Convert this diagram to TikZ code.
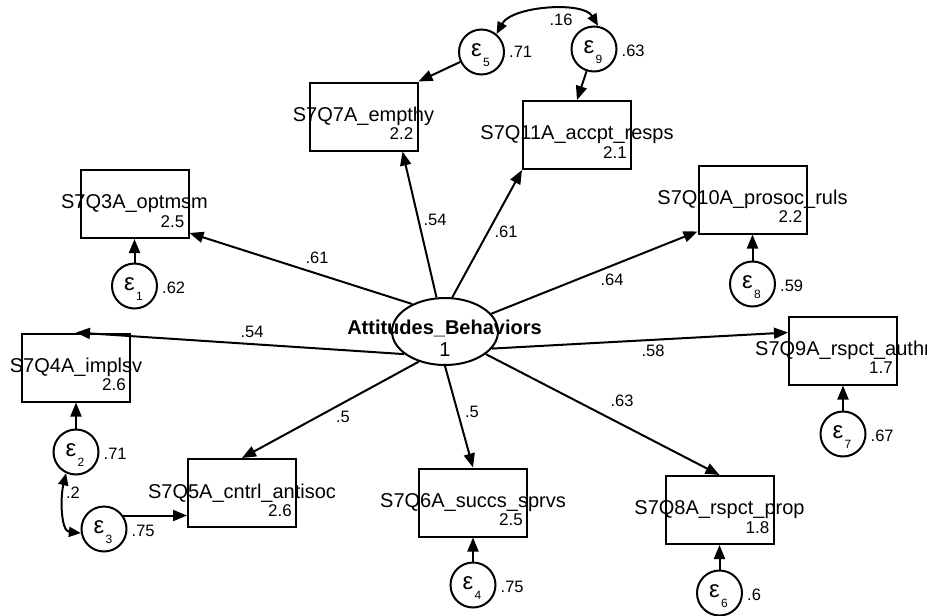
\documentclass[tikz,border=0pt]{standalone}
\usepackage{fontspec}
\setmainfont{Liberation Sans}
\usetikzlibrary{arrows.meta,shapes.geometric,calc}
\tikzset{
  obs/.style={draw, line width=2pt, rectangle, minimum width=108pt, minimum height=68pt, inner sep=0pt, font=\fontsize{20}{24}\selectfont},
  lat/.style={draw, line width=2pt, ellipse, minimum width=106pt, minimum height=67pt, inner sep=0pt},
  err/.style={draw, line width=2pt, circle, minimum size=45pt, inner sep=0pt,
    label={[epsglyph]center:ε}, label={[epssub]center:#1}},
  epsglyph/.style={inner sep=0pt, xshift=-5pt, yshift=2pt, font=\fontsize{24}{24}\selectfont},
  epssub/.style={inner sep=0pt, xshift=5pt, yshift=-10pt, font=\fontsize{12}{12}\selectfont},
  vnum/.style={inner sep=0pt, anchor=base east, font=\fontsize{17}{20}\selectfont},
  coef/.style={inner sep=0pt, font=\fontsize{16.5}{20}\selectfont},
  resv/.style={inner sep=0pt, anchor=base west, font=\fontsize{16.5}{20}\selectfont},
  conn/.style={line width=2pt, -{Triangle[length=14pt,width=11pt]}},
  cov/.style={line width=2pt, {Triangle[length=12pt,width=10pt]}-{Triangle[length=12pt,width=10pt]}}
}
\begin{document}
\begin{tikzpicture}[x=1pt,y=-1pt]
\useasboundingbox (0,0) rectangle (927,616);
\clip (0,0) rectangle (927,616);
\fill[white] (0,0) rectangle (927,616);

% latent variable
\node[lat] (E) at (445,331.5) {};
\node[inner sep=0pt, font=\bfseries\fontsize{20}{24}\selectfont] (Et) at (444.5,328) {Attitudes\_Behaviors};
\node[inner sep=0pt, font=\fontsize{20}{24}\selectfont] (Ev) at (445,350) {1};

% observed variables
\node[obs] (S3)  at (134.5,204)   {\makebox[0pt]{S7Q3A\_optmsm}};
\node[obs] (S4)  at (76,367.5)    {\makebox[0pt]{S7Q4A\_implsv}};
\node[obs] (S5)  at (242,493)     {\makebox[0pt]{S7Q5A\_cntrl\_antisoc}};
\node[obs] (S6)  at (473,502.5)   {\makebox[0pt]{S7Q6A\_succs\_sprvs}};
\node[obs] (S7)  at (363.5,116.5) {\makebox[0pt]{S7Q7A\_empthy}};
\node[obs] (S11) at (577,135)     {\makebox[0pt]{S7Q11A\_accpt\_resps}};
\node[obs] (S10) at (752.5,199.5) {\makebox[0pt]{S7Q10A\_prosoc\_ruls}};
\node[obs] (S9)  at (843,350.5)   {\makebox[0pt]{S7Q9A\_rspct\_authr}};
\node[obs] (S8)  at (719.5,510)   {\makebox[0pt]{S7Q8A\_rspct\_prop}};

\node[vnum] (n3)  at ($(S3.east)+(-5,23)$)  {2.5};
\node[vnum] (n4)  at ($(S4.east)+(-5,23)$)  {2.6};
\node[vnum] (n5)  at ($(S5.east)+(-5,23)$)  {2.6};
\node[vnum] (n6)  at ($(S6.east)+(-5,23)$)  {2.5};
\node[vnum] (n7)  at ($(S7.east)+(-5,23)$)  {2.2};
\node[vnum] (n11) at ($(S11.east)+(-5,23)$) {2.1};
\node[vnum] (n10) at ($(S10.east)+(-5,23)$) {2.2};
\node[vnum] (n9)  at ($(S9.east)+(-5,23)$)  {1.7};
\node[vnum] (n8)  at ($(S8.east)+(-5,23)$)  {1.8};

% error terms
\node[err=1] (e1) at (134.5,286) {};
\node[err=2] (e2) at (76,452) {};
\node[err=3] (e3) at (104,529) {};
\node[err=4] (e4) at (473,585) {};
\node[err=5] (e5) at (481.5,52) {};
\node[err=9] (e9) at (594,49) {};
\node[err=6] (e6) at (719.5,593) {};
\node[err=7] (e7) at (843,434) {};
\node[err=8] (e8) at (752.5,284) {};

\node[resv] (r1) at ($(e1.east)+(4,7)$) {.62};
\node[resv] (r2) at ($(e2.east)+(4,7)$) {.71};
\node[resv] (r3) at ($(e3.east)+(4,7)$) {.75};
\node[resv] (r4) at ($(e4.east)+(4,7)$) {.75};
\node[resv] (r5) at ($(e5.east)+(4,5)$) {.71};
\node[resv] (r9) at ($(e9.east)+(4,7)$) {.63};
\node[resv] (r6) at ($(e6.east)+(4,7)$) {.6};
\node[resv] (r7) at ($(e7.east)+(4,7)$) {.67};
\node[resv] (r8) at ($(e8.east)+(4,7)$) {.59};

% loadings
\draw[conn] (E.140) -- ($(S3.south east)+(0,-6)$);
\draw[conn] (E.104) -- ($(S7.south east)+(-16,0)$);
\draw[conn] (E.78)  -- (S11.south west);
\draw[conn] (E.21)  -- ($(S10.south west)+(0,-3)$);
\draw[conn] (E.-20) -- ($(S9.north west)+(0,17)$);
\draw[conn] (E.-29) -- (S8.north);
\draw[conn] (E.-90) -- (S6.north);
\draw[conn] (E.-131) -- (S5.north);
\draw[conn] (E.-151) -- (S4.north);

\node[coef] (c3)  at (317,258) {.61};
\node[coef] (c7)  at (435,220) {.54};
\node[coef] (c11) at (506,232) {.61};
\node[coef] (c10) at (612,280) {.64};
\node[coef] (c4)  at (252,332) {.54};
\node[coef] (c9)  at (653,351) {.58};
\node[coef] (c8)  at (622,401) {.63};
\node[coef] (c5)  at (343,417) {.5};
\node[coef] (c6)  at (472,412) {.5};

% error paths
\draw[conn] (e1.north) -- (e1.north |- S3.south);
\draw[conn] (e2.north) -- (e2.north |- S4.south);
\draw[conn] (e3.35) -- (e3.35 -| S5.west);
\draw[conn] (e4.north) -- (e4.north |- S6.south);
\draw[conn] (e5) -- (S7.north east);
\draw[conn] (e9) -- ($(S11.north west)+(55,0)$);
\draw[conn] (e6.north) -- (e6.north |- S8.south);
\draw[conn] (e7.north) -- (e7.north |- S9.south);
\draw[conn] (e8.north) -- (e8.north |- S10.south);

% covariances
\draw[cov] (e5.50) .. controls +(15,-28) and +(-15,-25) .. (e9.80);
\node[coef] (c59) at (561,20) {.16};
\draw[cov] (e2.245) .. controls +(-6,25) and +(-20,-2) .. (e3.190);
\node[coef] (c23) at (73,493) {.2};
\end{tikzpicture}
\end{document}
